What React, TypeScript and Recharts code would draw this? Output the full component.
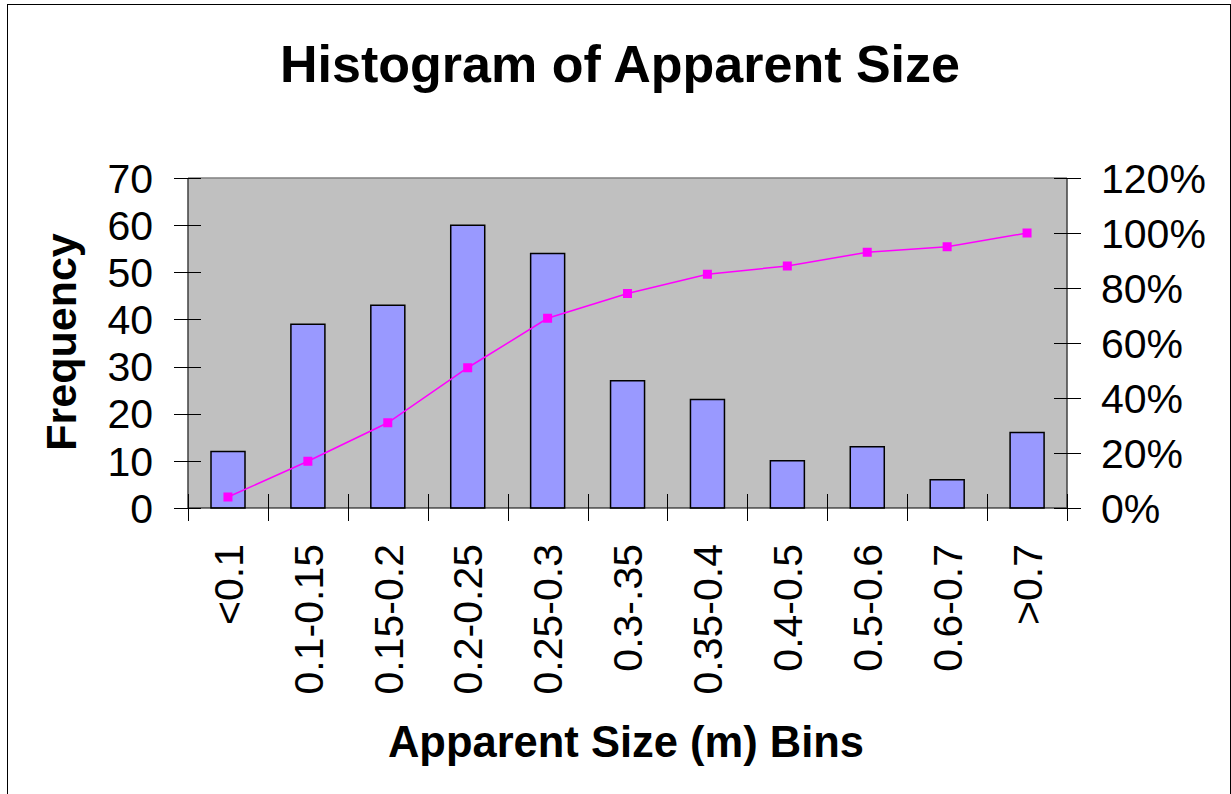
import React from 'react';
import { ComposedChart, Bar, Line, XAxis, YAxis, CartesianGrid, ReferenceLine } from 'recharts';

const categories = ['<0.1', '0.1-0.15', '0.15-0.2', '0.2-0.25', '0.25-0.3', '0.3-.35', '0.35-0.4', '0.4-0.5', '0.5-0.6', '0.6-0.7', '>0.7'];
const frequency = [12, 39, 43, 60, 54, 27, 23, 10, 13, 6, 16];
const cumulativePct = [4, 17, 31, 51, 69, 78, 85, 88, 93, 95, 100];
const leftTicks = [0, 10, 20, 30, 40, 50, 60, 70];
const rightTicks = [0, 20, 40, 60, 80, 100, 120];

const data = categories.map((c, i) => ({ bin: c, freq: frequency[i], cum: cumulativePct[i] }));

const W = 1231;
const H = 794;
const PLOT_LEFT = 188;
const PLOT_RIGHT = 1067;
const PLOT_TOP = 178;
const PLOT_BOTTOM = 508;
const FONT = '"Liberation Sans", Arial, sans-serif';
const TICK_FONT = 41;

const XTick = (props: any) => {
  const { x, y, payload, index } = props;
  const band = (PLOT_RIGHT - PLOT_LEFT) / categories.length;
  const lx = Math.round(x - band / 2) + 0.5;
  const rx = Math.round(x + band / 2) + 0.5;
  const ty = y + 36;
  return (
    <g>
      <line x1={lx} x2={lx} y1={y - 14} y2={y + 13} stroke="#000" strokeWidth={1} />
      {index === categories.length - 1 ? (
        <line x1={rx} x2={rx} y1={y - 14} y2={y + 13} stroke="#000" strokeWidth={1} />
      ) : null}
      <text
        x={x}
        y={ty}
        transform={`rotate(-90, ${x}, ${ty})`}
        textAnchor="end"
        dy="0.36em"
        fontSize={TICK_FONT}
        fontFamily={FONT}
        fill="#000"
      >
        {payload.value}
      </text>
    </g>
  );
};

const LeftTick = (props: any) => {
  const { x, y, payload } = props;
  const yy = Math.round(y) + 0.5;
  return (
    <g>
      <line x1={x - 14} x2={x + 13} y1={yy} y2={yy} stroke="#000" strokeWidth={1} />
      <text x={x - 35} y={y} dy="0.36em" textAnchor="end" fontSize={TICK_FONT} fontFamily={FONT} fill="#000">
        {payload.value}
      </text>
    </g>
  );
};

const RightTick = (props: any) => {
  const { x, y, payload } = props;
  const yy = Math.round(y) + 0.5;
  return (
    <g>
      <line x1={x - 13} x2={x + 14} y1={yy} y2={yy} stroke="#000" strokeWidth={1} />
      <text x={x + 34} y={y} dy="0.36em" textAnchor="start" fontSize={TICK_FONT} fontFamily={FONT} fill="#000">
        {`${payload.value}%`}
      </text>
    </g>
  );
};

const SquareDot = (p: any) => {
  if (p.cx == null || p.cy == null) return <g key={p.index} />;
  return <rect key={p.index} x={p.cx - 4.5} y={p.cy - 4.5} width={9} height={9} fill="#FF00FF" />;
};

export default function App() {
  return (
    <div style={{ position: 'absolute', left: 0, top: 0, width: W, height: H, overflow: 'hidden', background: '#fff' }}>
      <div
        style={{
          position: 'absolute',
          left: 7,
          top: 4,
          width: 1224,
          height: 820,
          border: '1px solid #000',
          boxSizing: 'border-box',
        }}
      />
      <div style={{ position: 'absolute', left: 0, top: 0 }}>
        <ComposedChart
          width={W}
          height={H}
          data={data}
          margin={{ top: PLOT_TOP, right: 0, left: 0, bottom: 0 }}
          barSize={34}
        >
          <CartesianGrid fill="#C0C0C0" stroke="none" horizontal={false} vertical={false} />
          <XAxis
            dataKey="bin"
            height={H - PLOT_BOTTOM}
            interval={0}
            tickSize={0}
            tickMargin={0}
            tickLine={false}
            axisLine={{ stroke: '#000', strokeWidth: 1 }}
            tick={<XTick />}
          />
          <YAxis
            yAxisId="left"
            orientation="left"
            width={PLOT_LEFT}
            domain={[0, 70]}
            ticks={leftTicks}
            interval={0}
            tickSize={0}
            tickMargin={0}
            tickLine={false}
            axisLine={{ stroke: '#404040', strokeWidth: 1.5 }}
            tick={<LeftTick />}
          />
          <YAxis
            yAxisId="right"
            orientation="right"
            width={W - PLOT_RIGHT}
            domain={[0, 120]}
            ticks={rightTicks}
            interval={0}
            tickSize={0}
            tickMargin={0}
            tickLine={false}
            axisLine={{ stroke: '#404040', strokeWidth: 1.5 }}
            tick={<RightTick />}
          />
          <ReferenceLine yAxisId="left" y={70} stroke="#808080" strokeWidth={1.5} />
          <Bar
            yAxisId="left"
            dataKey="freq"
            fill="#9999FF"
            stroke="#000"
            strokeWidth={1.5}
            isAnimationActive={false}
          />
          <Line
            yAxisId="right"
            dataKey="cum"
            stroke="#FF00FF"
            strokeWidth={1.5}
            dot={SquareDot}
            activeDot={false}
            isAnimationActive={false}
          />
        </ComposedChart>
      </div>
      <svg
        width={W}
        height={H}
        style={{ position: 'absolute', left: 0, top: 0, pointerEvents: 'none' }}
      >
        <text x={620} y={82} textAnchor="middle" fontSize={52} fontWeight="bold" fontFamily={FONT} fill="#000">
          Histogram of Apparent Size
        </text>
        <text
          x={76}
          y={342}
          transform="rotate(-90, 76, 342)"
          textAnchor="middle"
          fontSize={43}
          fontWeight="bold"
          fontFamily={FONT}
          fill="#000"
        >
          Frequency
        </text>
        <text x={626} y={757} textAnchor="middle" fontSize={43.5} fontWeight="bold" fontFamily={FONT} fill="#000">
          Apparent Size (m) Bins
        </text>
      </svg>
    </div>
  );
}
